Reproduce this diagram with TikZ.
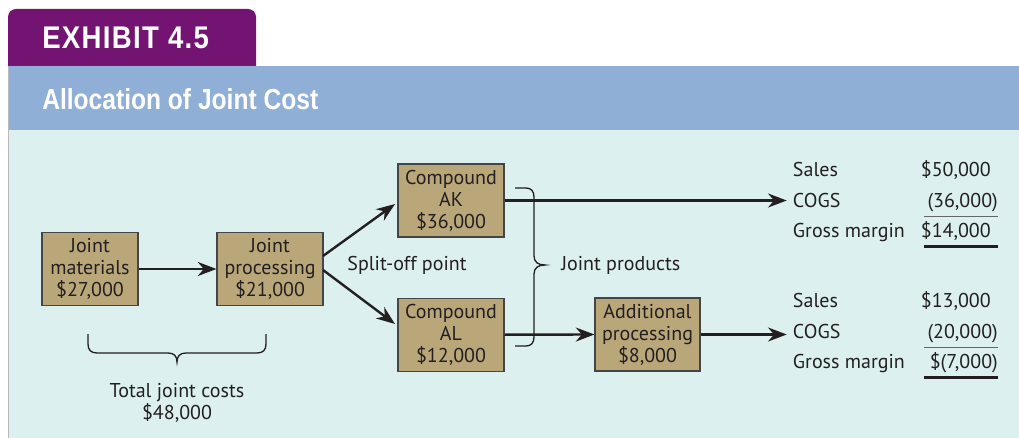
\documentclass[tikz,border=0pt]{standalone}
\usepackage{fontspec}
\setmainfont{PT Sans}
\newfontfamily\headfont[FakeStretch=0.85]{Liberation Sans}
\newfontfamily\exhfont[FakeStretch=0.88]{Liberation Sans}
\usetikzlibrary{arrows.meta}
\definecolor{exhpurple}{HTML}{741472}
\definecolor{headblue}{HTML}{8FAFD6}
\definecolor{bodycol}{HTML}{DDF0F0}
\definecolor{boxfill}{HTML}{B9A77A}
\definecolor{boxline}{HTML}{454545}
\definecolor{inkcol}{HTML}{231F20}
\definecolor{rulegray}{HTML}{666666}
\newcommand\ls{\kern1pt}
\tikzset{
  costbox/.style={draw=boxline, fill=boxfill, line width=0.8pt, minimum width=79.5pt,
    minimum height=54.75pt, align=center, inner sep=0pt, text=inkcol,
    font=\fontsize{15}{16.5}\selectfont},
  flow/.style={draw=inkcol, line width=1.8pt, -{Stealth[length=14pt,width=10.5pt,inset=4.5pt]}},
  bracestyle/.style={draw=inkcol, line width=1pt},
  lbl/.style={text=inkcol, inner sep=0pt, font=\fontsize{15}{16.5}\selectfont},
  thinrule/.style={draw=rulegray, line width=1.1pt},
  thickrule/.style={draw=inkcol, line width=2.6pt}
}
\begin{document}
\begin{tikzpicture}[x=0.75pt,y=-0.75pt]
\useasboundingbox (0,0) rectangle (1019,438);
% background panels
\fill[bodycol] (8,130) rectangle (1019,438);
\fill[headblue] (8,66) rectangle (1019,130);
\draw[gray!55, line width=0.9pt] (8.6,66) -- (8.6,438);
\fill[exhpurple] (8,66) [rounded corners=6pt] -- (8,9) -- (256,9) [sharp corners] -- (256,66) -- cycle;
\node[anchor=base west, inner sep=0pt, text=white, font=\exhfont\bfseries\fontsize{23.5}{24}\selectfont] (exh) at (42,49) {E\ls X\ls H\ls I\ls B\ls I\ls T\ls\ 4\ls.\ls 5};
\node[anchor=base west, inner sep=0pt, text=white, font=\headfont\bfseries\fontsize{21.7}{24}\selectfont] (title) at (42,110) {Allocation of Joint Cost};

% boxes
\node[costbox, minimum width=72pt] (jm) at (90,269) {Joint\\materials\\\$27,000};
\node[costbox] (jp) at (270,269) {Joint\\processing\\\$21,000};
\node[costbox] (ak) at (451,200.5) {Compound\\AK\\\$36,000};
\node[costbox] (al) at (451,334.7) {Compound\\AL\\\$12,000};
\node[costbox, minimum width=78.75pt] (ap) at (647.5,334.5) {Additional\\processing\\\$8,000};

% labels
\node[lbl] (split) at (407,265) {Split-off point};
\node[lbl, anchor=west] (jprod) at (561,265) {Joint products};
\node[lbl, align=center, font=\fontsize{15}{14.5}\selectfont] (total) at (177,403) {Total joint costs\\\$48,000};

% table 1
\node[lbl, anchor=base west] (salesa) at (792.7,176.7) {Sales};
\node[lbl, anchor=base west] (cogsa) at (792.7,207.3) {COGS};
\node[lbl, anchor=base west] (gma) at (792.7,237.3) {Gross margin};
\node[lbl, anchor=base east] (sva) at (991,176.7) {\$50,000};
\node[lbl, anchor=base east] (cva) at (998,207.3) {(36,000)};
\node[lbl, anchor=base east] (gva) at (991,237.3) {\$14,000};
% table 2
\node[lbl, anchor=base west] (salesb) at (792.7,307.7) {Sales};
\node[lbl, anchor=base west] (cogsb) at (792.7,338.3) {COGS};
\node[lbl, anchor=base west] (gmb) at (792.7,368.3) {Gross margin};
\node[lbl, anchor=base east] (svb) at (991,307.7) {\$13,000};
\node[lbl, anchor=base east] (cvb) at (998,338.3) {(20,000)};
\node[lbl, anchor=base east] (gvb) at (998,368.3) {\$(7,000)};

% rules
\coordinate (ra1) at (924,216.7); \coordinate (ra2) at (998,216.7);
\coordinate (rb1) at (924,246.3); \coordinate (rb2) at (998,246.3);
\coordinate (rc1) at (924,347.7); \coordinate (rc2) at (998,347.7);
\coordinate (rd1) at (924,377.7); \coordinate (rd2) at (998,377.7);
\draw[thinrule] (ra1) -- (ra2);
\draw[thickrule] (rb1) -- (rb2);
\draw[thinrule] (rc1) -- (rc2);
\draw[thickrule] (rd1) -- (rd2);

% connectors
\coordinate (jpu) at (323,256);
\coordinate (jpl) at (323,270);
\coordinate (aktip) at (395,204);
\coordinate (altip) at (395,324);
\draw[flow] (jm.east) -- (jp.west);
\draw[flow] (jpu) -- (aktip);
\draw[flow] (jpl) -- (altip);
\draw[flow] (ak.east) -- ([xshift=-4.5pt]ak.east -| cogsa.west);
\draw[flow] (al.east) -- (ap.west);
\draw[flow] (ap.east) -- ([xshift=-4.5pt]ap.east -| cogsb.west);

% braces
\draw[bracestyle] (515,188) -- (526,188) .. controls (531,188) and (534,191) .. (534,197)
  -- (534,256) .. controls (534,262) and (538,265) .. (545,265)
  .. controls (538,265) and (534,268) .. (534,274)
  -- (534,337) .. controls (534,343) and (531,346) .. (526,346) -- (515,346);
\draw[bracestyle] (88,334) -- (88,344) .. controls (88,350) and (91,353) .. (97,353)
  -- (168,353) .. controls (174,353) and (177,356) .. (177,362)
  .. controls (177,356) and (180,353) .. (186,353)
  -- (257,353) .. controls (263,353) and (266,350) .. (266,344) -- (266,334);
\end{tikzpicture}
\end{document}
